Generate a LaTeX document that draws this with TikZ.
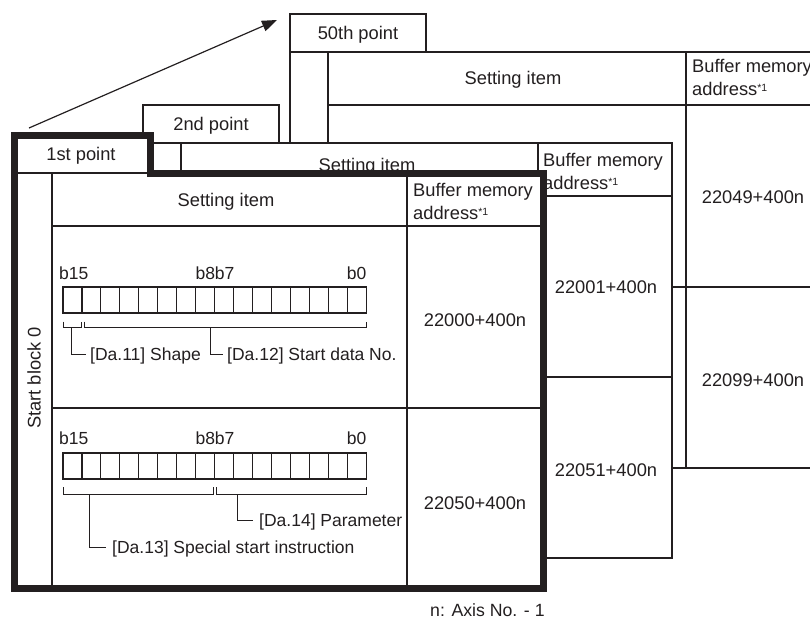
\documentclass[tikz,border=0pt]{standalone}
\usepackage{fontspec}
\setmainfont{Liberation Sans}
\usetikzlibrary{arrows.meta}
\definecolor{ink}{HTML}{231F20}
\newcommand\bitreg[1]{%
  \draw[bitln] (63,#1) rectangle (366.5,#1+26);
  \foreach \i in {1,...,15}{\draw[bitln] ({63+\i*18.97},#1) -- ++(0,26);}
}
\newcommand\supone{\raisebox{4.5pt}{\fontsize{10.5}{10.5}\selectfont *1}}
\begin{document}
\begin{tikzpicture}[x=1pt,y=-1pt,
  ln/.style={draw=ink,line width=1.3pt},
  bitln/.style={draw=ink,line width=1.1pt},
  brk/.style={draw=ink,line width=0.9pt},
  frame/.style={draw=ink,line width=7pt,line join=miter},
  lbl/.style={font=\fontsize{18.3}{22}\selectfont,text=ink,inner sep=0pt,text height=13.1pt,text depth=0pt},
  bitlbl/.style={font=\fontsize{17.5}{21}\selectfont,text=ink,inner sep=0pt,text height=12.5pt,text depth=0pt},
]
\useasboundingbox (0,0) rectangle (810,621);
\clip (0,0) rectangle (810,621);

% ---------- 50th point (back) ----------
\draw[ln,fill=white] (290,14) rectangle (426,52);
\draw[ln,fill=white] (290,52) rectangle (840,468);
\draw[ln] (328,52) -- (328,468);
\draw[ln] (328,105) -- (840,105);
\draw[ln] (686,52) -- (686,468);
\draw[ln] (328,287) -- (840,287);
\node[lbl] (p50) at (358,33) {50th point};
\node[lbl] (s50) at (513,78) {Setting item};
\node[lbl,anchor=west] (b50a) at (692,66) {Buffer memory};
\node[lbl,anchor=west] (b50b) at (692,89) {address\supone};
\node[lbl] (a22049) at (753,197) {22049+400n};
\node[lbl] (a22099) at (753,380) {22099+400n};

% ---------- 2nd point (middle) ----------
\draw[ln,fill=white] (143,105) rectangle (279,143);
\draw[ln,fill=white] (143,143) rectangle (672,558);
\draw[ln] (181,143) -- (181,558);
\draw[ln] (181,196) -- (672,196);
\draw[ln] (538,143) -- (538,558);
\draw[ln] (181,377) -- (672,377);
\node[lbl] (p2) at (211,124) {2nd point};
\node[lbl] (s2) at (367,165) {Setting item};
\node[lbl,anchor=west] (b2a) at (543,160) {Buffer memory};
\node[lbl,anchor=west] (b2b) at (543,183) {address\supone};
\node[lbl] (a22001) at (606,287) {22001+400n};
\node[lbl] (a22051) at (606,470) {22051+400n};

% ---------- 1st point (front) ----------
\fill[white] (14,135) -- (150,135) -- (150,173) -- (543,173) -- (543,588) -- (14,588) -- cycle;
\draw[ln] (14,173) -- (150,173);
\draw[ln] (52,173) -- (52,588);
\draw[ln] (52,226) -- (543,226);
\draw[ln] (407,173) -- (407,588);
\draw[ln] (52,408) -- (543,408);
\draw[frame] (14,135) -- (150,135) -- (150,173) -- (543,173) -- (543,588) -- (14,588) -- cycle;
\node[lbl] (p1) at (81,154) {1st point};
\node[lbl,rotate=90] (sb0) at (34,378) {Start block 0};
\node[lbl] (s1) at (226,199.5) {Setting item};
\node[lbl,anchor=west] (b1a) at (413,190) {Buffer memory};
\node[lbl,anchor=west] (b1b) at (413,213) {address\supone};
\node[lbl] (a22000) at (475,320) {22000+400n};
\node[lbl] (a22050) at (475,503) {22050+400n};

% bit register 1
\node[bitlbl,anchor=west] (r1b15) at (59,273) {b15};
\node[bitlbl] (r1b8) at (215,273) {b8b7};
\node[bitlbl,anchor=east] (r1b0) at (366.5,273) {b0};
\bitreg{287}
\draw[brk] (63,321.5) -- (63,327.7) -- (81,327.7) -- (81,321.5);
\draw[brk] (84,321.5) -- (84,327.7) -- (366.5,327.7) -- (366.5,321.5);
\node[bitlbl,anchor=west] (da11) at (90,354) {[Da.11] Shape};
\node[bitlbl,anchor=west] (da12) at (227,354) {[Da.12] Start data No.};
\coordinate (k11) at (71,327.7);
\coordinate (k12) at (210,327.7);
\draw[brk] (k11) |- ([xshift=-4.5pt]da11.west);
\draw[brk] (k12) |- ([xshift=-4.5pt]da12.west);

% bit register 2
\node[bitlbl,anchor=west] (r2b15) at (59,438.5) {b15};
\node[bitlbl] (r2b8) at (215,438.5) {b8b7};
\node[bitlbl,anchor=east] (r2b0) at (366.5,438.5) {b0};
\bitreg{453}
\draw[brk] (63,487) -- (63,494.3) -- (213.3,494.3) -- (213.3,487);
\draw[brk] (216,487) -- (216,494.3) -- (366.5,494.3) -- (366.5,487);
\node[bitlbl,anchor=west] (da14) at (259,520) {[Da.14] Parameter};
\node[bitlbl,anchor=west] (da13) at (112,547) {[Da.13] Special start instruction};
\coordinate (k14) at (237.3,494.3);
\coordinate (k13) at (89,494.3);
\draw[brk] (k14) |- ([xshift=-6pt]da14.west);
\draw[brk] (k13) |- ([xshift=-6pt]da13.west);

% arrow
\coordinate (arrS) at (29,128);
\coordinate (arrE) at (277,20);
\draw[draw=ink,line width=1.2pt,-{Triangle[length=15pt,width=11pt]}] (arrS) -- (arrE);

% footnote
\node[font=\fontsize{17.7}{21}\selectfont,text=ink,inner sep=0pt,anchor=west] (note) at (430,610) {n: Axis No. - 1};
\end{tikzpicture}
\end{document}
